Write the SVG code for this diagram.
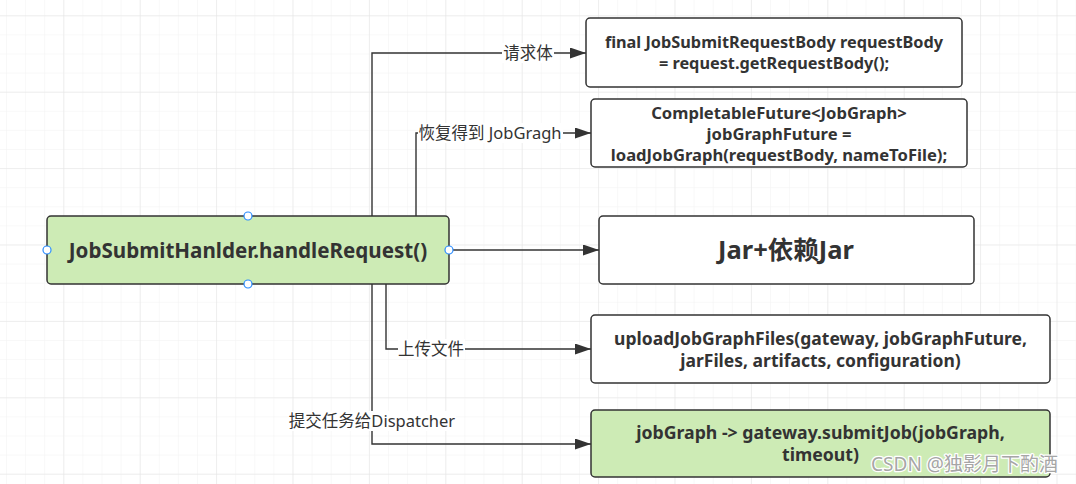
<svg xmlns="http://www.w3.org/2000/svg" width="1076" height="484" viewBox="0 0 1076 484">
<defs>
<pattern id="minor" patternUnits="userSpaceOnUse" x="6" y="15.3" width="19.1" height="19.1">
<path d="M0 0H19.1M0 0V19.1" fill="none" stroke="#f2f2f2" stroke-width="1"/>
</pattern>
<pattern id="major" patternUnits="userSpaceOnUse" x="63.3" y="15.3" width="76.4" height="76.4">
<path d="M0 0H76.4M0 0V76.4" fill="none" stroke="#e3e3e3" stroke-width="1"/>
</pattern>
<marker id="arr" markerUnits="userSpaceOnUse" markerWidth="18" markerHeight="12" refX="16" refY="5.5" orient="auto">
<path d="M0 0L16 5.5L0 11Z" fill="#333"/>
</marker>
<style>
.box{fill:#fff;stroke:#333;stroke-width:1.5}
.green{fill:#cdebb5}
.t{font-family:"Noto Sans","Noto Sans CJK SC",sans-serif;font-weight:bold;fill:#333;text-anchor:middle}
.lbl{font-family:"Noto Sans","Noto Sans CJK SC",sans-serif;font-size:16.5px;fill:#333;text-anchor:middle}
.edge{fill:none;stroke:#333;stroke-width:1.4;marker-end:url(#arr)}
.lb{fill:#fff}
.h{fill:#fff;stroke:#2a8cff;stroke-width:1.2}
</style>
</defs>
<rect width="1076" height="484" fill="#fff"/>
<rect width="1076" height="484" fill="url(#minor)"/>
<rect width="1076" height="484" fill="url(#major)"/>

<g id="connectors">
<path class="edge" d="M372 216V53H586"/>
<path class="edge" d="M416 216V133H591"/>
<path class="edge" d="M449 250H599"/>
<path class="edge" d="M386 284V349H591"/>
<path class="edge" d="M372 284V444H591"/>
<rect class="lb" x="502" y="43" width="52" height="20"/>
<text class="lbl" x="528" y="59" font-size="17.5">请求体</text>
<rect class="lb" x="418" y="123" width="145" height="20"/>
<text class="lbl" x="490" y="139">恢复得到 JobGragh</text>
<rect class="lb" x="398" y="339" width="67" height="20"/>
<text class="lbl" x="431" y="355">上传文件</text>
<rect class="lb" x="289" y="411" width="167" height="20"/>
<text class="lbl" x="372" y="427">提交任务给Dispatcher</text>
</g>

<g id="main">
<rect class="box green" x="47" y="216" width="402" height="68" rx="4"/>
<text class="t" x="248" y="257.5" font-size="20.6">JobSubmitHanlder.handleRequest()</text>
<circle class="h" cx="248" cy="216" r="4"/>
<circle class="h" cx="248" cy="284" r="4"/>
<circle class="h" cx="47" cy="250" r="4"/>
<circle class="h" cx="449" cy="250" r="4"/>
</g>

<g id="requestBody">
<rect class="box" x="586" y="18" width="376" height="69" rx="4"/>
<text class="t" font-size="16.3"><tspan x="774" y="48">final JobSubmitRequestBody requestBody</tspan><tspan x="774" y="69">= request.getRequestBody();</tspan></text>
</g>

<g id="jobGraphFuture">
<rect class="box" x="591" y="99" width="376" height="68" rx="4"/>
<text class="t" font-size="16.6"><tspan x="779" y="119">CompletableFuture&lt;JobGraph&gt;</tspan><tspan x="779" y="140">jobGraphFuture =</tspan><tspan x="779" y="161">loadJobGraph(requestBody, nameToFile);</tspan></text>
</g>

<g id="jar">
<rect class="box" x="599" y="216" width="375" height="68" rx="4"/>
<text class="t" x="786" y="259" font-size="25.5">Jar+依赖Jar</text>
</g>

<g id="upload">
<rect class="box" x="591" y="315" width="459" height="68" rx="4"/>
<text class="t" font-size="17.5"><tspan x="820.5" y="345">uploadJobGraphFiles(gateway, jobGraphFuture,</tspan><tspan x="820.5" y="367">jarFiles, artifacts, configuration)</tspan></text>
</g>

<g id="submit">
<rect class="box green" x="591" y="410" width="459" height="67" rx="4"/>
<text class="t" font-size="17.7"><tspan x="820.5" y="439">jobGraph -&gt; gateway.submitJob(jobGraph,</tspan><tspan x="820.5" y="461">timeout)</tspan></text>
</g>

<text x="964.5" y="471" font-family="Noto Sans, Noto Sans CJK SC, sans-serif" font-size="19" fill="#a6a6a6" stroke="#fff" stroke-width="2.5" paint-order="stroke" stroke-linejoin="round" text-anchor="middle">CSDN @独影月下酌酒</text>
</svg>
